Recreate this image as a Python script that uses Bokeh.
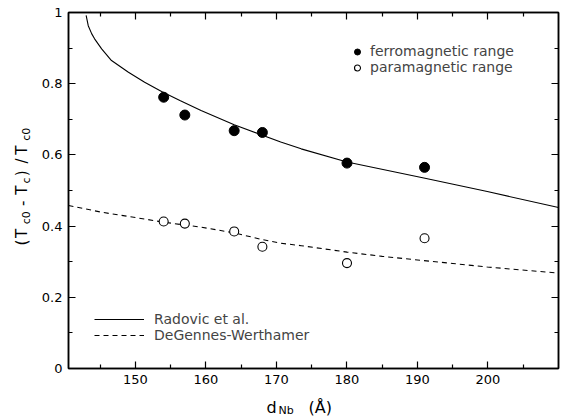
from math import pi
from bokeh.plotting import figure
from bokeh.layouts import row, column
from bokeh.models import (ColumnDataSource, Range1d, LinearAxis, FixedTicker,
                          CustomJSTickFormatter, Legend, LegendItem, Label)
from bokeh.embed import file_html
from bokeh.resources import INLINE

# ---------------- data ----------------
ferro_d = [154, 157, 164, 168, 180, 191]
ferro_t = [0.762, 0.712, 0.668, 0.663, 0.577, 0.565]

para_d = [154, 157, 164, 168, 180, 191]
para_t = [0.413, 0.407, 0.385, 0.342, 0.296, 0.366]

radovic_d = [143.0, 143.3, 143.8, 144.2, 145.2, 146.6, 149.0, 151.3, 153.7,
             156.3, 159.3, 164.0, 170.6, 173.5, 180.0, 190.9, 199.9, 210.0]
radovic_t = [0.992, 0.963, 0.940, 0.926, 0.898, 0.865, 0.832, 0.804, 0.778,
             0.753, 0.725, 0.685, 0.636, 0.617, 0.580, 0.535, 0.497, 0.452]

dgw_d = [140.5, 145.2, 150.0, 154.0, 157.0, 159.3, 164.0, 168.0, 170.6,
         173.5, 180.0, 185.0, 190.9, 195.0, 199.9, 210.0]
dgw_t = [0.458, 0.439, 0.424, 0.411, 0.403, 0.397, 0.381, 0.362, 0.352,
         0.345, 0.327, 0.315, 0.303, 0.295, 0.285, 0.268]

x_major = [150, 160, 170, 180, 190, 200]
x_minor = [145, 155, 165, 175, 185, 195, 205]
y_major = [0, 0.2, 0.4, 0.6, 0.8, 1.0]
y_minor = [0.1, 0.3, 0.5, 0.7, 0.9]

legend_labels = ["ferromagnetic range", "paramagnetic range",
                 "Radovic et al.", "DeGennes-Werthamer"]

# ---------------- layout (page pixels) ----------------
PW, PH = 563, 417            # whole page area
YLW = 38                     # width of the y-title strip
XLH = 24                     # height of the x-title strip
W, H = PW - YLW, PH - XLH    # main figure
FL, FR, FT, FB = 67, 558, 12, 368   # frame edges on the page
X0, X1, Y0, Y1 = 140.5, 210.0, 0.0, 1.0
FONT = "DejaVu Sans"

p = figure(width=W, height=H, output_backend="svg", toolbar_location=None,
           tools="", x_range=Range1d(X0, X1), y_range=Range1d(Y0, Y1),
           min_border_left=FL - YLW, min_border_right=PW - FR,
           min_border_top=FT, min_border_bottom=H - FB)
p.xgrid.grid_line_color = None
p.ygrid.grid_line_color = None
p.outline_line_color = "black"
p.outline_line_width = 1.5
p.background_fill_color = "white"
p.border_fill_color = "white"

yfmt = CustomJSTickFormatter(
    code="return (tick == 0 || tick == 1) ? tick.toFixed(0) : tick.toFixed(1);")
blank = CustomJSTickFormatter(code="return '';")


def style_axis(ax, labels=True):
    ax.axis_line_color = "black"
    ax.axis_line_width = 1.5
    ax.major_tick_in = 7
    ax.major_tick_out = 0
    ax.minor_tick_in = 4
    ax.minor_tick_out = 0
    ax.major_tick_line_color = "black"
    ax.minor_tick_line_color = "black"
    ax.major_tick_line_width = 1.2
    ax.minor_tick_line_width = 1.2
    if labels:
        ax.major_label_text_font = FONT
        ax.major_label_text_font_size = "13px"
        ax.major_label_text_color = "black"
        ax.major_label_standoff = 6
    else:
        ax.formatter = blank
        ax.major_label_text_font_size = "1px"
        ax.major_label_standoff = 0


p.xaxis.ticker = FixedTicker(ticks=x_major, minor_ticks=x_minor)
p.yaxis.ticker = FixedTicker(ticks=y_major, minor_ticks=y_minor)
p.yaxis.formatter = yfmt
style_axis(p.xaxis[0])
style_axis(p.yaxis[0])

top = LinearAxis(ticker=FixedTicker(ticks=x_major, minor_ticks=x_minor))
right = LinearAxis(ticker=FixedTicker(ticks=y_major, minor_ticks=y_minor))
style_axis(top, labels=False)
style_axis(right, labels=False)
p.add_layout(top, "above")
p.add_layout(right, "right")

# ---------------- glyphs ----------------
src_rad = ColumnDataSource(dict(d=radovic_d, t=radovic_t))
src_dgw = ColumnDataSource(dict(d=dgw_d, t=dgw_t))
src_f = ColumnDataSource(dict(d=ferro_d, t=ferro_t))
src_p = ColumnDataSource(dict(d=para_d, t=para_t))

r_rad = p.line("d", "t", source=src_rad, line_color="black", line_width=1.1)
r_dgw = p.line("d", "t", source=src_dgw, line_color="black", line_width=1.1,
               line_dash="5 4")
r_f = p.scatter("d", "t", source=src_f, marker="circle", size=10,
                fill_color="black", line_color="black")
r_p = p.scatter("d", "t", source=src_p, marker="circle", size=9,
                fill_color="white", line_color="black", line_width=1.1)

# ---------------- legends ----------------
leg1 = Legend(items=[LegendItem(label=legend_labels[0], renderers=[r_f]),
                     LegendItem(label=legend_labels[1], renderers=[r_p])],
              location=(280, 293), glyph_width=18, glyph_height=15,
              label_height=15, label_standoff=4, spacing=0, padding=0,
              margin=0, border_line_color=None, background_fill_alpha=0,
              label_text_font=FONT, label_text_font_size="14px")
leg2 = Legend(items=[LegendItem(label=legend_labels[2], renderers=[r_rad]),
                     LegendItem(label=legend_labels[3], renderers=[r_dgw])],
              location=(26, 25), glyph_width=50, glyph_height=16,
              label_height=16, label_standoff=10, spacing=0, padding=0,
              margin=0, border_line_color=None, background_fill_alpha=0,
              label_text_font=FONT, label_text_font_size="14px")
p.add_layout(leg1)
p.add_layout(leg2)


# ---------------- axis titles (with subscripts) ----------------
def strip(width, height, x_off, y_off):
    """A blank figure whose data coordinates are page pixels (y upwards
    measured from the page bottom)."""
    f = figure(width=width, height=height, output_backend="svg",
               toolbar_location=None, tools="",
               x_range=Range1d(x_off, x_off + width),
               y_range=Range1d(PH - y_off - height, PH - y_off),
               x_axis_type=None, y_axis_type=None,
               min_border_left=0, min_border_right=0,
               min_border_top=0, min_border_bottom=0)
    f.outline_line_color = None
    f.grid.visible = False
    f.background_fill_color = "white"
    f.border_fill_color = "white"
    return f


def put(fig, txt, size, x, cy, align="center", angle=0.0):
    fig.add_layout(Label(x=x, y=PH - cy, text=txt, angle=angle,
                         text_align=align, text_baseline="middle",
                         text_font=FONT, text_font_size=f"{size}px",
                         text_color="black"))


# y title: (T_c0 - T_c) / T_c0, rotated, reading upwards (centres on page)
ylab = strip(YLW, H, 0, 0)
main_cx, sub_cx = 21.5, 26.3
for txt, cy in [("(", 254), ("T", 244), ("-", 210.5), ("T", 196),
                (")", 177.5), ("/", 164), ("T", 152)]:
    put(ylab, txt, 15, main_cx, cy, angle=pi / 2)
for txt, cy in [("c0", 226.5), ("c", 185.5), ("c0", 134.5)]:
    put(ylab, txt, 11, sub_cx, cy, angle=pi / 2)

# x title: d_Nb (Å), left edges as on the page
xlab = strip(PW, XLH, 0, H)
put(xlab, "d", 16, 266, 406.5, align="left")
put(xlab, "Nb", 11, 278, 410, align="left")
put(xlab, "(Å)", 16, 308, 406.5, align="left")

layout = column(row(ylab, p, spacing=0), xlab, spacing=0)
open("out.html", "w").write(file_html(layout, INLINE))
